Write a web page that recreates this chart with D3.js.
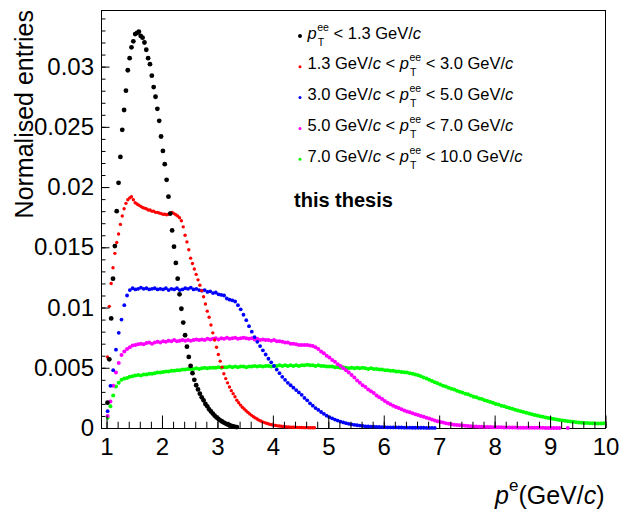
<!DOCTYPE html>
<meta charset="utf-8">
<style>
    body { margin: 0; background: #fff; }
    svg { display: block; background: #fff; }
    text { font-family: "Liberation Sans", Arial, Helvetica, sans-serif; fill: #000; }
    .axis text { font-size: 24px; }
    .frame { fill: none; stroke: #000; stroke-width: 1; }
</style>
<svg width="622" height="512"></svg>
<script src="https://d3js.org/d3.v7.min.js"></script>
<script>
    // normalised entries, in units of 1e-3, one value per bin
    // pT < 1.3 and 1.3-3.0: bins of 1/30 GeV/c starting at 1.0167
    var blackX0 = 1.0167, blackStep = 1 / 30;
    var blackVals = [2.1, 5.7, 9.1, 12.4, 15.1, 18.0, 20.35, 22.5, 24.75, 26.4,
        28.0, 29.7, 30.7, 31.6, 32.1, 32.7, 32.8, 32.9, 32.55, 32.4,
        32.0, 31.4, 30.7, 30.2, 29.25, 28.3, 27.5, 26.5, 25.5, 24.2,
        23.0, 21.9, 20.6, 19.2, 17.8, 16.4, 15.05, 13.7, 12.4, 11.1,
        9.9, 8.75, 7.7, 6.75, 5.9, 5.15, 4.55, 4.0, 3.55, 3.2,
        2.85, 2.55, 2.3, 2.0, 1.8, 1.55, 1.38, 1.2, 1.02, 0.88,
        0.76, 0.64, 0.54, 0.45, 0.37, 0.3, 0.23, 0.18, 0.14, 0.1, 0.08];

    var redX0 = 1.0167, redStep = 1 / 30;
    var redVals = [5.9, 10.1, 12.0, 13.3, 14.5, 15.4, 16.1, 16.9, 17.6, 18.2,
        18.65, 18.95, 19.1, 19.2, 18.95, 18.7, 18.6, 18.5, 18.4, 18.3,
        18.25, 18.2, 18.1, 18.1, 18.0, 18.0, 17.9, 17.9, 17.85, 17.8,
        17.75, 17.75, 17.7, 17.75, 17.85, 17.9, 17.8, 17.7, 17.6, 17.45,
        17.2, 16.7, 16.0, 15.45, 14.8, 14.1, 13.65, 13.2, 12.75, 12.3,
        11.85, 11.4, 10.9, 10.3, 9.7, 9.2, 8.55, 7.9, 7.3, 6.7,
        6.1, 5.55, 5.05, 4.5, 4.1, 3.75, 3.4, 3.1, 2.85, 2.6,
        2.3, 2.1, 1.9, 1.72, 1.58, 1.43, 1.3, 1.17, 1.05, 0.93,
        0.84, 0.75, 0.65, 0.58, 0.51, 0.45, 0.4, 0.35, 0.3, 0.27,
        0.24, 0.21, 0.18, 0.16, 0.14, 0.12, 0.1, 0.09, 0.08, 0.07,
        0.06, 0.06, 0.05, 0.05, 0.04, 0.04, 0.03, 0.03, 0.03, 0.02,
        0.02, 0.02, 0.02];

    // the three harder bins read every 0.05 GeV/c from 1.02
    var blueX0 = 1.02, blueStep = 0.05;
    var blueVals = [1.4, 3.5, 4.8, 6.5, 7.9, 9.0, 10.2, 11.0, 11.45, 11.6,
        11.5, 11.55, 11.65, 11.55, 11.6, 11.5, 11.55, 11.6, 11.5, 11.55,
        11.5, 11.6, 11.45, 11.55, 11.5, 11.6, 11.45, 11.5, 11.6, 11.55,
        11.65, 11.5, 11.55, 11.45, 11.4, 11.45, 11.3, 11.35, 11.2, 11.25,
        11.1, 11.05, 11.0, 10.75, 10.65, 10.6, 10.5, 10.2, 9.85, 9.4,
        8.95, 8.45, 8.0, 7.55, 7.15, 6.8, 6.45, 6.1, 5.75, 5.45,
        5.15, 4.85, 4.55, 4.25, 4.0, 3.75, 3.55, 3.35, 3.15, 2.95,
        2.75, 2.5, 2.3, 2.05, 1.85, 1.65, 1.5, 1.33, 1.18, 1.02,
        0.9, 0.8, 0.7, 0.62, 0.53, 0.46, 0.4, 0.35, 0.3, 0.26,
        0.23, 0.2, 0.17, 0.14, 0.13, 0.12, 0.11, 0.1, 0.09, 0.08,
        0.07, 0.06, 0.06, 0.05, 0.05, 0.04, 0.04, 0.03, 0.03, 0.03,
        0.02, 0.02, 0.02, 0.02, 0.02, 0.01, 0.01, 0.01, 0.01];

    var magentaX0 = 1.02, magentaStep = 0.05;
    var magentaVals = [1.0, 2.2, 3.5, 4.6, 5.4, 6.05, 6.35, 6.55, 6.7, 6.85,
        6.9, 6.95, 7.0, 6.95, 7.05, 7.1, 7.0, 7.1, 7.15, 7.1,
        7.2, 7.15, 7.25, 7.2, 7.3, 7.2, 7.25, 7.3, 7.25, 7.3,
        7.25, 7.3, 7.35, 7.3, 7.35, 7.3, 7.4, 7.35, 7.4, 7.45,
        7.35, 7.45, 7.4, 7.5, 7.4, 7.45, 7.5, 7.4, 7.45, 7.5,
        7.45, 7.4, 7.45, 7.35, 7.4, 7.3, 7.35, 7.3, 7.3, 7.25,
        7.3, 7.2, 7.2, 7.15, 7.1, 7.1, 7.0, 7.0, 6.95, 6.9,
        6.9, 6.9, 6.9, 6.85, 6.8, 6.7, 6.55, 6.35, 6.2, 6.0,
        5.85, 5.65, 5.5, 5.3, 5.15, 4.95, 4.8, 4.6, 4.4, 4.2,
        3.95, 3.75, 3.55, 3.4, 3.2, 3.05, 2.9, 2.7, 2.55, 2.4,
        2.25, 2.1, 1.97, 1.85, 1.75, 1.65, 1.55, 1.45, 1.38, 1.3,
        1.22, 1.15, 1.08, 1.0, 0.93, 0.85, 0.78, 0.7, 0.63, 0.56,
        0.5, 0.45, 0.4, 0.36, 0.32, 0.28, 0.25, 0.22, 0.2, 0.18,
        0.16, 0.14, 0.13, 0.12, 0.11, 0.1, 0.09, 0.08, 0.08, 0.07,
        0.07, 0.06, 0.06, 0.05, 0.05, 0.04, 0.04, 0.04, 0.03, 0.03,
        0.03, 0.03, 0.02, 0.02, 0.02, 0.02, 0.02, 0.02, 0.01, 0.01,
        0.01, 0.01, 0.01, 0.01, null, null, 0.01];

    var greenX0 = 1.02, greenStep = 0.05;
    var greenVals = [0.85, 1.8, 2.7, 3.45, 3.75, 4.0, 4.1, 4.15, 4.25, 4.3,
        4.35, 4.4, 4.35, 4.45, 4.45, 4.5, 4.5, 4.55, 4.6, 4.6,
        4.65, 4.7, 4.7, 4.75, 4.75, 4.8, 4.8, 4.85, 4.85, 4.9,
        4.9, 4.9, 4.95, 4.9, 4.95, 5.0, 4.95, 5.0, 5.0, 5.0,
        5.05, 5.0, 5.05, 5.05, 5.1, 5.05, 5.1, 5.05, 5.1, 5.1,
        5.05, 5.1, 5.1, 5.15, 5.1, 5.15, 5.1, 5.15, 5.15, 5.1,
        5.15, 5.15, 5.2, 5.15, 5.2, 5.15, 5.2, 5.15, 5.2, 5.15,
        5.2, 5.2, 5.25, 5.2, 5.2, 5.15, 5.2, 5.15, 5.15, 5.1,
        5.1, 5.1, 5.05, 5.05, 5.0, 5.05, 5.0, 4.95, 5.0, 4.95,
        5.0, 4.95, 5.0, 4.95, 4.9, 4.95, 4.9, 4.9, 4.85, 4.85,
        4.8, 4.8, 4.75, 4.75, 4.7, 4.7, 4.65, 4.62, 4.6, 4.55,
        4.5, 4.45, 4.38, 4.3, 4.2, 4.1, 4.0, 3.9, 3.8, 3.72,
        3.62, 3.5, 3.45, 3.35, 3.25, 3.2, 3.1, 3.0, 2.95, 2.85,
        2.8, 2.7, 2.6, 2.55, 2.45, 2.4, 2.3, 2.25, 2.15, 2.1,
        2.0, 1.95, 1.85, 1.8, 1.72, 1.65, 1.6, 1.52, 1.45, 1.4,
        1.33, 1.27, 1.2, 1.15, 1.08, 1.03, 0.98, 0.93, 0.88, 0.83,
        0.79, 0.75, 0.71, 0.67, 0.63, 0.6, 0.57, 0.54, 0.51, 0.48,
        0.46, 0.44, 0.42, 0.41, 0.4, 0.39, 0.38, 0.38, 0.38, 0.39];

    var xTicks = [1, 2, 3, 4, 5, 6, 7, 8, 9, 10];
    var yTicks = [0, 0.005, 0.01, 0.015, 0.02, 0.025, 0.03];
    var yTickLabels = ["0", "0.005", "0.01", "0.015", "0.02", "0.025", "0.03"];
    var legendLow = [null, "1.3", "3.0", "5.0", "7.0"];
    var legendHigh = ["1.3", "3.0", "5.0", "7.0", "10.0"];

    var svg = d3.select("svg"),
        plotLeft = 101, plotRight = 605.5, plotTop = 10, plotBottom = 428;

    var x = d3.scaleLinear().domain([0.9, 10]).range([plotLeft, plotRight]);
    var y = d3.scaleLinear().domain([0, 0.0347]).range([plotBottom, plotTop]);

    svg.append("rect").attr("class", "frame")
        .attr("x", plotLeft + 0.5).attr("y", plotTop + 0.5)
        .attr("width", plotRight - plotLeft - 0.5).attr("height", plotBottom - plotTop);

    var series = [
        {vals: greenVals, x0: greenX0, step: greenStep, color: "#00ff00", r: 2.0},
        {vals: magentaVals, x0: magentaX0, step: magentaStep, color: "#ff00ff", r: 2.0},
        {vals: blueVals, x0: blueX0, step: blueStep, color: "#0000ff", r: 1.9},
        {vals: redVals, x0: redX0, step: redStep, color: "#ff0000", r: 1.7},
        {vals: blackVals, x0: blackX0, step: blackStep, color: "#000000", r: 2.4}
    ];

    series.forEach(function (s) {
        var pts = [];
        s.vals.forEach(function (v, i) {
            if (v != null) pts.push({x: s.x0 + i * s.step, v: v * 1e-3});
        });
        svg.append("g").selectAll("circle")
            .data(pts)
            .enter().append("circle")
            .attr("cx", function (d) { return x(d.x); })
            .attr("cy", function (d) { return y(d.v); })
            .attr("r", s.r)
            .attr("fill", s.color);
    });

    // axes: ticks drawn inside the frame, ROOT style
    var yMinor = svg.append("g").attr("class", "axis").attr("transform", "translate(" + plotLeft + ",0)")
        .call(d3.axisLeft(y).tickValues(d3.range(0, 0.0345, 0.001)).tickSize(-4.5).tickFormat(""));
    var yMajor = svg.append("g").attr("class", "axis").attr("transform", "translate(" + plotLeft + ",0)")
        .call(d3.axisLeft(y).tickValues(yTicks).tickSize(-8.5).tickPadding(7)
            .tickFormat(function (d, i) { return yTickLabels[i]; }));
    var xMinor = svg.append("g").attr("class", "axis").attr("transform", "translate(0," + plotBottom + ")")
        .call(d3.axisBottom(x).tickValues(d3.range(1, 10.01, 0.2)).tickSize(-6.3).tickFormat(""));
    var xMajor = svg.append("g").attr("class", "axis").attr("transform", "translate(0," + plotBottom + ")")
        .call(d3.axisBottom(x).tickValues(xTicks).tickSize(-12.5).tickPadding(9.7));
    [yMinor, yMajor, xMinor, xMajor].forEach(function (g) {
        g.select(".domain").remove();
        g.attr("font-family", null).attr("font-size", null);
    });

    // axis titles
    svg.append("text")
        .attr("transform", "translate(33," + plotTop + ") rotate(-90)")
        .attr("text-anchor", "end")
        .attr("font-size", 25)
        .text("Normalised entries");

    var xt = svg.append("text")
        .attr("x", 604.5).attr("y", 504)
        .attr("text-anchor", "end")
        .attr("font-size", 25);
    xt.append("tspan").attr("font-style", "italic").text("p");
    xt.append("tspan").attr("font-size", 17).attr("dy", -13).text("e");
    xt.append("tspan").attr("dy", 13).text("(GeV/");
    xt.append("tspan").attr("font-style", "italic").text("c");
    xt.append("tspan").text(")");

    // legend
    function richText(px, py, segs, size) {
        var t = svg.append("text").attr("font-size", size).style("white-space", "pre");
        var cx = px;
        segs.forEach(function (s) {
            if (s.sup) {
                var a = t.append("tspan").attr("x", cx + 0.5).attr("y", py - 8)
                    .attr("font-size", size * 0.64).text(s.sup);
                var b = t.append("tspan").attr("x", cx + 1).attr("y", py + 7)
                    .attr("font-size", size * 0.64).text(s.sub);
                cx += Math.max(a.node().getComputedTextLength() + 0.5, b.node().getComputedTextLength() + 1);
            } else {
                var sp = t.append("tspan").attr("x", cx).attr("y", py).text(s.t);
                if (s.it) sp.attr("font-style", "italic");
                cx += sp.node().getComputedTextLength();
            }
        });
    }

    var legendColors = ["#000000", "#ff0000", "#0000ff", "#ff00ff", "#00ff00"];
    legendHigh.forEach(function (hi, k) {
        var base = 38.5 + k * 30.8;
        var pT = [{t: "p", it: true}, {sup: "ee", sub: "T"}];
        var segs;
        if (legendLow[k] == null) {
            segs = pT.concat([{t: " < " + hi + " GeV/"}, {t: "c", it: true}]);
        } else {
            segs = [{t: legendLow[k] + " GeV/"}, {t: "c", it: true}, {t: " < "}]
                .concat(pT, [{t: " < " + hi + " GeV/"}, {t: "c", it: true}]);
        }
        svg.append("circle")
            .attr("cx", 300).attr("cy", base - 2.5)
            .attr("r", k == 0 ? 2 : 1.5)
            .attr("fill", legendColors[k]);
        richText(307.5, base, segs, 16.5);
    });

    svg.append("text")
        .attr("x", 294).attr("y", 206.5)
        .attr("font-size", 20).attr("font-weight", "bold")
        .text("this thesis");
</script>
